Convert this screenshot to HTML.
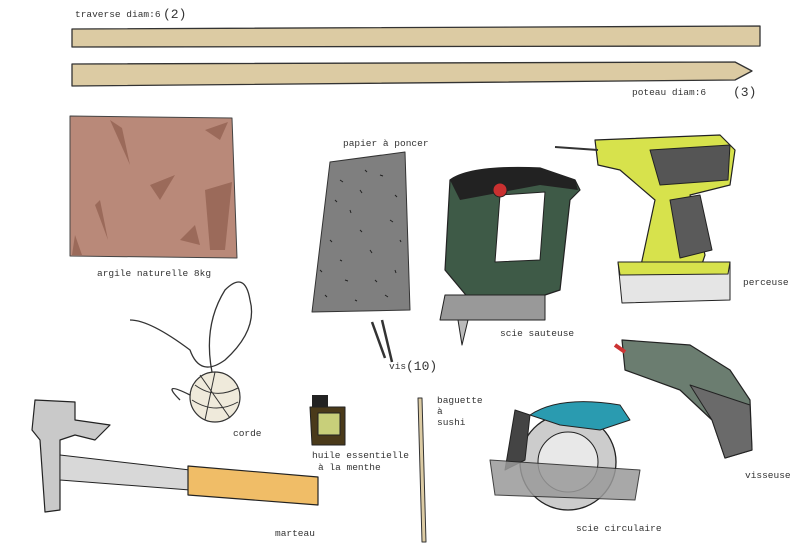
<!DOCTYPE html>
<html><head><meta charset="utf-8"><style>
html,body{margin:0;padding:0;background:#fff;}
svg{display:block}
text{font-family:"Liberation Mono",monospace;font-size:9.5px;fill:#333}
</style></head><body>
<svg width="800" height="559" viewBox="0 0 800 559" xmlns="http://www.w3.org/2000/svg" stroke-linejoin="round">
<path d="M72 29 L760 26 L760 46 L72 47 Z" fill="#dccba3" stroke="#333" stroke-width="1.3"/>
<path d="M72 64 L735 62 L752 71 L735 80 L72 86 Z" fill="#dccba3" stroke="#333" stroke-width="1.3"/>
<text x="75" y="17">traverse diam:6</text>
<text x="163" y="18" style="font-size:13px">(2)</text>
<text x="632" y="95">poteau diam:6</text>
<text x="733" y="96" style="font-size:13px">(3)</text>
<path d="M70 116 L232 118 L237 258 L70 256 Z" fill="#b98979" stroke="#444" stroke-width="1"/>
<path d="M205 130 L228 122 L220 140 Z M110 120 L130 165 L122 128 Z M150 185 L175 175 L160 200 Z M95 205 L108 240 L100 200 Z M75 235 L82 255 L72 255 Z M205 190 L232 182 L225 250 L210 250 Z M180 240 L195 225 L200 245 Z" fill="#9b6a5a"/>
<text x="97" y="276">argile naturelle 8kg</text>
<path d="M330 162 L405 152 L410 310 L312 312 Z" fill="#7f7f7f" stroke="#333" stroke-width="1"/>
<g stroke="#222" stroke-width="1"><path d="M340 180l3 2M360 190l2 3M380 175l3 1M350 210l1 3M390 220l3 2M330 240l2 2M370 250l2 3M395 270l1 3M345 280l3 1M325 295l2 2M385 295l3 2M360 230l2 2M335 200l2 2M395 195l2 2M340 260l2 1M375 280l2 2M355 300l2 1M400 240l1 2M320 270l2 2M365 170l2 2"/></g>
<text x="343" y="146">papier à poncer</text>
<path d="M372 322 L385 358 M382 320 L392 362" stroke="#333" stroke-width="2.5"/>
<text x="389" y="369">vis</text>
<text x="406" y="370" style="font-size:13px">(10)</text>
<path d="M450 180 Q470 165 540 168 L575 180 L580 190 L570 200 L560 290 L530 300 L470 300 L445 270 Z" fill="#3e5a47" stroke="#222" stroke-width="1.2"/>
<path d="M450 180 Q470 165 540 168 L575 180 L578 190 L540 185 L460 200 Z" fill="#222"/>
<path d="M500 195 L545 192 L540 260 L495 262 Z" fill="#fff" stroke="#222"/>
<circle cx="500" cy="190" r="7" fill="#c93030" stroke="#222"/>
<path d="M445 295 L545 295 L545 320 L440 320 Z" fill="#999" stroke="#222"/>
<path d="M458 320 L462 345 L468 320 Z" fill="#bbb" stroke="#222"/>
<text x="500" y="336">scie sauteuse</text>
<path d="M595 140 L720 135 L735 150 L730 185 L690 195 L705 255 L700 270 L640 270 L655 200 L620 170 L598 165 Z" fill="#d7e24c" stroke="#222" stroke-width="1.2"/>
<path d="M650 150 L730 145 L728 180 L660 185 Z" fill="#555" stroke="#222"/>
<path d="M670 200 L700 195 L712 250 L680 258 Z" fill="#5a5a5a" stroke="#222"/>
<path d="M618 262 L730 262 L730 300 L622 303 Z" fill="#e5e5e5" stroke="#222"/>
<path d="M618 262 L730 262 L728 274 L620 275 Z" fill="#d7e24c" stroke="#222"/>
<path d="M555 147 L598 150" stroke="#333" stroke-width="2"/>
<text x="743" y="285">perceuse</text>
<path d="M215 385 Q200 330 225 290 Q245 270 250 300 Q258 330 225 360 Q200 378 190 350 Q150 320 130 320 M190 395 Q160 380 180 400" fill="none" stroke="#333" stroke-width="1.3"/>
<circle cx="215" cy="397" r="25" fill="#efeadb" stroke="#333" stroke-width="1.2"/>
<path d="M195 385 Q215 400 238 388 M192 400 Q215 415 238 402 M200 375 L230 418 M215 372 L205 420" fill="none" stroke="#333"/>
<text x="233" y="436">corde</text>
<rect x="312" y="395" width="16" height="12" fill="#222"/>
<path d="M310 407 L345 407 L345 445 L312 445 Z" fill="#4a3a1a" stroke="#222"/>
<rect x="318" y="413" width="22" height="22" fill="#c8cf7a" stroke="#222"/>
<text x="312" y="458">huile essentielle</text>
<text x="318" y="470">à la menthe</text>
<path d="M418 398 L422 398 L426 542 L422 542 Z" fill="#dccba3" stroke="#333"/>
<text x="437" y="403">baguette</text>
<text x="437" y="414">à</text>
<text x="437" y="425">sushi</text>
<circle cx="568" cy="462" r="48" fill="#ccc" stroke="#222" stroke-width="1.3"/>
<circle cx="568" cy="462" r="30" fill="#e8e8e8" stroke="#222"/>
<path d="M530 415 Q560 395 620 405 L630 420 L600 430 L560 425 Z" fill="#2a9bb0" stroke="#222"/>
<path d="M515 410 L530 415 L525 460 L505 470 Z" fill="#444" stroke="#222"/>
<path d="M490 460 L640 470 L635 500 L495 495 Z" fill="#9a9a9a" stroke="#222" opacity="0.85"/>
<text x="576" y="531">scie circulaire</text>
<path d="M622 340 L690 345 L730 370 L750 400 L752 450 L725 458 L712 420 L680 390 L625 370 Z" fill="#6b7d70" stroke="#222" stroke-width="1.2"/>
<path d="M690 385 L712 420 L725 458 L752 450 L750 405 Z" fill="#6a6a6a" stroke="#222"/>
<path d="M615 345 L625 352" stroke="#c33" stroke-width="4"/>
<text x="745" y="478">visseuse</text>
<path d="M35 400 L75 402 L75 420 L110 425 L95 440 L75 435 L60 440 L60 510 L45 512 L40 440 L32 430 Z" fill="#c9c9c9" stroke="#222" stroke-width="1.2"/>
<path d="M60 455 L190 470 L190 490 L60 480 Z" fill="#d8d8d8" stroke="#222"/>
<path d="M188 466 L318 477 L318 505 L188 495 Z" fill="#f0bd67" stroke="#222" stroke-width="1.2"/>
<text x="275" y="536">marteau</text>
</svg>
</body></html>
